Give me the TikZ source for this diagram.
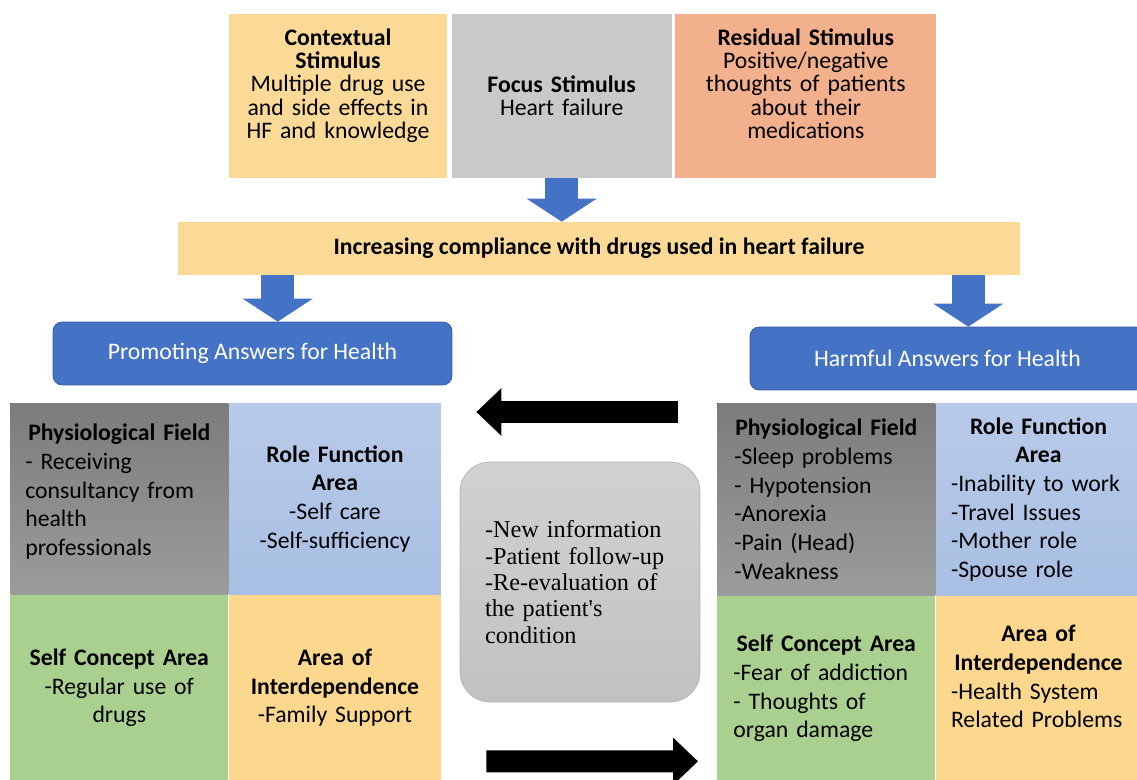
\documentclass[tikz,border=0pt]{standalone}
\usepackage{fontspec}
\setmainfont{Carlito}
\newfontfamily\timesfont{Liberation Serif}
\usetikzlibrary{positioning, arrows.meta, calc}
\definecolor{ctxorange}{HTML}{FADA96}
\definecolor{focgray}{HTML}{C9C9C9}
\definecolor{ressalmon}{HTML}{F3B08C}
\definecolor{royblue}{HTML}{4472C4}
\definecolor{physdark}{HTML}{7C7C7C}
\definecolor{physlight}{HTML}{9C9C9C}
\definecolor{roletop}{HTML}{B8CAE9}
\definecolor{rolebot}{HTML}{A8BFE3}
\definecolor{selfgreen}{HTML}{AAD08F}
\definecolor{interyellow}{HTML}{FCD88E}
\newcommand{\topfont}{\fontsize{13.5}{13.2}\selectfont}
\newcommand{\cellfont}{\fontsize{13.5}{16.3}\selectfont}
\newcommand{\cellhead}[1]{{\centering\bfseries #1\par}}
\newcommand{\liftup}[1]{\rule[-#1]{0pt}{0pt}}

\begin{document}
\begin{tikzpicture}[
    x=0.02cm, y=-0.02cm,
    topbox/.style={fill=#1, minimum height=3.28cm, inner xsep=0.08cm, inner ysep=0pt,
                   text width=4.2cm, align=center, font=\topfont},
    header/.style={fill=royblue, draw=royblue!80!black, rounded corners=0.18cm,
                   minimum height=1.26cm, text=white, font=\fontsize{13.5}{16}\selectfont},
    cell/.style={fill=#1, inner xsep=0.3cm, inner ysep=0pt, align=left, font=\cellfont},
    shaded/.style 2 args={top color=#1, bottom color=#2},
    bluearr/.style={royblue, line width=0.66cm, -{Triangle[width=1.38cm, length=0.46cm]}},
    blk/.style={black, line width=0.44cm, -{Triangle[width=0.92cm, length=0.5cm]}},
  ]
  \useasboundingbox[fill=white] (0,0) rectangle (1137,780);

  % ── Stimuli ──
  \node[topbox=ctxorange, minimum width=4.36cm] (ctx) at (338,96)
    {\textbf{Contextual}\\\textbf{Stimulus}\\Multiple drug use\\and side effects in\\HF and knowledge\liftup{0.5cm}};
  \node[topbox=focgray, minimum width=4.4cm, right=0.08cm of ctx] (focus)
    {\textbf{Focus Stimulus}\\Heart failure};
  \node[topbox=ressalmon, minimum width=5.22cm, text width=5cm, right=0.06cm of focus] (resid)
    {\textbf{Residual Stimulus}\\Positive/negative\\thoughts of patients\\about their\\medications\liftup{0.5cm}};

  % ── Compliance bar ──
  \node[fill=ctxorange, minimum width=16.84cm, minimum height=1.06cm, font=\fontsize{13.5}{16}\selectfont\bfseries]
    (bar) at (599,248.5) {Increasing compliance with drugs used in heart failure};

  % ── Answers ──
  \node[header, minimum width=7.98cm] (promo) at (252.5,353.5) {Promoting Answers for Health};
  \node[header, minimum width=7.9cm] (harm) at (947.5,358.5) {Harmful Answers for Health};

  % ── Promoting areas ──
  \node[cell, shaded={physdark}{physlight}, minimum width=4.36cm, minimum height=3.82cm,
        text width=3.76cm, anchor=north west] (lTL) at (10,403)
    {\cellhead{Physiological Field}- Receiving\\consultancy from\\health\\professionals\liftup{0.36cm}};
  \node[cell, shaded={roletop}{rolebot}, minimum width=4.24cm, minimum height=3.82cm,
        text width=3.64cm, align=center, right=0cm of lTL] (lTR)
    {\textbf{Role Function}\\\textbf{Area}\\-Self care\\-Self-sufficiency};
  \node[cell=selfgreen, minimum width=4.36cm, minimum height=3.72cm,
        text width=3.76cm, align=center, below=0cm of lTL] (lBL)
    {\textbf{Self Concept Area}\\-Regular use of\\drugs};
  \node[cell=interyellow, minimum width=4.24cm, minimum height=3.72cm,
        text width=3.64cm, align=center, below=0cm of lTR] (lBR)
    {\textbf{Area of}\\\textbf{Interdependence}\\-Family Support};

  % ── Harmful areas ──
  \node[cell, shaded={physdark}{physlight}, minimum width=4.36cm, minimum height=3.84cm,
        inner xsep=0.34cm, text width=3.68cm, anchor=north west] (rTL) at (717,403)
    {\cellhead{Physiological Field}-Sleep problems\\- Hypotension\\-Anorexia\\-Pain (Head)\\-Weakness};
  \node[cell, shaded={roletop}{rolebot}, minimum width=4.1cm, minimum height=3.84cm,
        text width=3.5cm, right=0cm of rTL] (rTR)
    {\cellhead{Role Function\\Area}-Inability to work\\-Travel Issues\\-Mother role\\-Spouse role};
  \node[cell=selfgreen, minimum width=4.36cm, minimum height=3.7cm,
        inner xsep=0.32cm, text width=3.72cm, below=0cm of rTL] (rBL)
    {\cellhead{Self Concept Area}-Fear of addiction\\- Thoughts of\\organ damage};
  \node[cell=interyellow, minimum width=4.1cm, minimum height=3.7cm,
        text width=3.5cm, below=0cm of rTR] (rBR)
    {\cellhead{Area of\\Interdependence}-Health System\\Related Problems\liftup{0.48cm}};

  % ── Feedback box ──
  \node[shaded={white!82!black}{white!76!black}, draw=black!30, rounded corners=0.6cm,
        minimum width=4.8cm, minimum height=4.8cm, inner xsep=0.5cm, text width=3.8cm,
        align=left, font=\timesfont\fontsize{13.8}{15}\selectfont] (loop) at (580,582)
    {-New information\\-Patient follow-up\\-Re-evaluation of\\the patient's\\condition};

  % ── Arrows ──
  \draw[bluearr] (focus.south) -- (focus.south |- bar.north);
  \coordinate (lfork) at ($(bar.south west)+(100,0)$);
  \coordinate (rfork) at ($(bar.south east)+(-52,0)$);
  \draw[bluearr] (lfork) -- (lfork |- promo.north);
  \draw[bluearr] (rfork) -- (rfork |- harm.north);

  \coordinate (fbtail) at ($(rTL.north west)+(-39,9)$);
  \coordinate (fbtip) at ($(lTR.north east)+(35,9)$);
  \draw[blk] (fbtail) -- (fbtip);
  \coordinate (fwtail) at ($(lBR.south east)+(45,-20)$);
  \coordinate (fwtip) at ($(rBL.south west)+(-19,-20)$);
  \draw[blk] (fwtail) -- (fwtip);

\end{tikzpicture}
\end{document}
